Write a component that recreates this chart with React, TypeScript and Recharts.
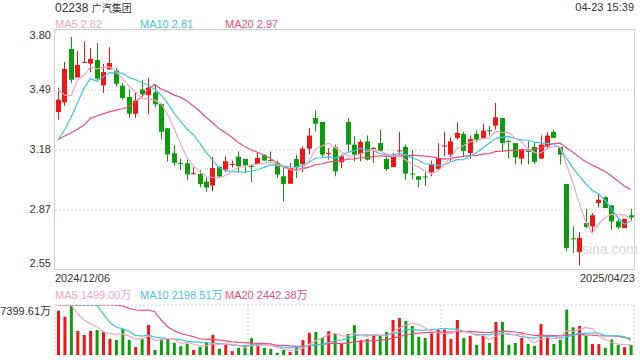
import React from 'react';
import { ComposedChart, Bar, Line, XAxis, YAxis, CartesianGrid } from 'recharts';

// ---------- data ----------
const OPEN = [3.373,3.423,3.701,3.553,3.630,3.625,3.644,3.512,3.595,3.59,
 3.51,3.451,3.364,3.49,3.461,3.475,3.415,3.288,3.158,3.107,
 3.106,3.050,3.05,3.01,2.99,3.087,3.073,3.10,3.14,3.128,
 3.092,3.102,3.147,3.123,3.107,3.038,2.999,3.128,3.102,3.182,
 3.342,3.321,3.158,3.189,3.111,3.321,3.203,3.154,3.22,3.183,
 3.211,3.128,3.086,3.171,3.191,3.052,3.038,3.037,3.06,3.076,
 3.197,3.151,3.238,3.258,3.159,3.258,3.238,3.278,3.302,3.342,
 3.222,3.211,3.13,3.17,3.191,3.13,3.194,3.269,3.191,2.998,
 2.715,2.644,2.795,2.777,2.899,2.929,2.887,2.803,2.769,2.835];
const CLOSE = [3.437,3.597,3.541,3.618,3.634,3.649,3.547,3.581,3.628,3.52,
 3.446,3.364,3.432,3.465,3.50,3.413,3.27,3.152,3.108,3.104,
 3.048,3.054,2.998,2.98,3.081,3.037,3.116,3.102,3.09,3.095,
 3.09,3.133,3.12,3.121,3.047,2.998,3.081,3.085,3.182,3.25,
 3.312,3.151,3.16,3.064,3.142,3.203,3.151,3.217,3.125,3.185,
 3.171,3.076,3.145,3.173,3.052,3.05,3.02,3.035,3.099,3.133,
 3.199,3.22,3.264,3.171,3.232,3.229,3.276,3.276,3.345,3.211,
 3.22,3.137,3.177,3.168,3.113,3.203,3.25,3.238,3.151,2.665,
 2.713,2.717,2.774,2.835,2.916,2.873,2.803,2.772,2.816,2.824];
const HIGH = [3.50,3.633,3.764,3.69,3.741,3.705,3.732,3.623,3.711,3.602,
 3.525,3.49,3.474,3.54,3.552,3.513,3.42,3.29,3.20,3.13,
 3.125,3.085,3.07,3.035,3.14,3.09,3.142,3.12,3.168,3.13,
 3.099,3.16,3.154,3.168,3.12,3.081,3.107,3.151,3.194,3.29,
 3.382,3.321,3.185,3.203,3.151,3.342,3.246,3.229,3.251,3.19,
 3.28,3.151,3.159,3.269,3.203,3.176,3.038,3.06,3.12,3.211,
 3.269,3.241,3.319,3.269,3.251,3.277,3.31,3.30,3.42,3.342,
 3.229,3.211,3.182,3.22,3.217,3.251,3.269,3.281,3.191,2.998,
 2.777,2.748,2.868,2.847,2.946,2.934,2.887,2.812,2.816,2.868];
const LOW = [3.333,3.405,3.524,3.553,3.630,3.58,3.533,3.472,3.593,3.505,
 3.438,3.342,3.342,3.45,3.361,3.398,3.23,3.114,3.093,3.07,
 3.02,3.048,2.98,2.957,2.96,3.03,3.06,3.085,3.06,3.055,
 3.008,3.10,3.118,3.112,3.03,2.908,2.999,3.029,3.06,3.151,
 3.272,3.137,3.125,3.038,3.081,3.168,3.116,3.116,3.12,3.107,
 3.171,3.067,3.086,3.142,3.021,3.021,2.98,2.99,3.038,3.069,
 3.142,3.116,3.229,3.142,3.13,3.217,3.238,3.25,3.281,3.165,
 3.13,3.102,3.10,3.10,3.102,3.13,3.185,3.238,3.10,2.647,
 2.639,2.574,2.769,2.748,2.876,2.873,2.76,2.76,2.769,2.807];
// volume, in 万
const VOLUME = [6562,5673,7399.61,3552,2960,3552,3700,3404,2368,2220,
 3897,2220,1184,2368,4440,740,2368,2440,1800,1300,
 1680,760,1180,1800,3000,937,1500,570,1060,1430,
 2490,1430,1060,910,320,760,470,1110,2200,3280,
 3404,2560,3530,3160,1700,3108,4410,2200,2390,2960,
 2812,3404,5180,5476,5050,4300,2700,2516,3200,3750,
 3750,2368,5180,2516,2840,1500,2840,1800,4884,4884,
 1500,1776,2516,1628,1360,4588,2900,1628,2269,6709,
 4100,4300,2850,1620,1620,1060,2290,1500,1160,1485];

// moving-average values at the start of the window (history before the window)
const MA5_START = [3.487, 3.461, 3.458, 3.54];
const MA10_START = [3.231, 3.279, 3.345, 3.42, 3.496, 3.547, 3.533, 3.557, 3.578];
const MA20_START = [3.231, 3.248, 3.265, 3.283, 3.305, 3.34, 3.352, 3.363, 3.375, 3.383,
 3.39, 3.40, 3.427, 3.453, 3.491, 3.517, 3.491, 3.479, 3.461];
const VMA5_START = [7399.61, 7399.61, 7399.61, 6100];
const VMA10_START = [7399.61, 7399.61, 7399.61, 7399.61, 7399.61, 7399.61, 7399.61, 6100, 4800];
const VMA20_START = [7399.61, 7399.61, 7399.61, 7399.61, 7399.61, 7399.61, 7399.61, 7399.61, 7399.61, 7399.61,
 7250, 6906, 6660, 6611, 6660, 6413, 5180, 4193, 3602];

const PRICE_TICKS = [2.55, 2.8625, 3.175, 3.4875, 3.8];
const PRICE_TICK_LABELS = ['2.55', '2.87', '3.18', '3.49', '3.80'];
const VOL_MAX = 7399.61;
const VOL_TICKS = [0, VOL_MAX];
const VOL_TICK_LABELS = ['0', '7399.61万'];

const TITLE_CODE = '02238';
const TITLE_NAME = '广汽集团';
const TIMESTAMP = '04-23 15:39';
const START_DATE = '2024/12/06';
const END_DATE = '2025/04/23';
const PRICE_LEGEND = ['MA5 2.82', 'MA10 2.81', 'MA20 2.97'];
const VOL_LEGEND = ['MA5 1499.00万', 'MA10 2198.51万', 'MA20 2442.38万'];

// ---------- styling ----------
const RED = '#f01616';
const GREEN = '#0c9c0c';
const C_MA5 = '#f7a2bf';
const C_MA10 = '#3fc3e6';
const C_MA20 = '#ea4f80';
const FONT = 'Arial, "Liberation Sans", "Noto Sans CJK SC", sans-serif';
const TEXT = '#333';

function movingAverage(values: number[], n: number, start: number[]) {
  return values.map((_, i) => {
    if (i < n - 1) return start[i];
    let s = 0;
    for (let k = i - n + 1; k <= i; k++) s += values[k];
    return s / n;
  });
}

const ma5 = movingAverage(CLOSE, 5, MA5_START);
const ma10 = movingAverage(CLOSE, 10, MA10_START);
const ma20 = movingAverage(CLOSE, 20, MA20_START);
const vma5 = movingAverage(VOLUME, 5, VMA5_START);
const vma10 = movingAverage(VOLUME, 10, VMA10_START);
const vma20 = movingAverage(VOLUME, 20, VMA20_START);

const data = CLOSE.map((c, i) => ({
  i,
  o: OPEN[i], c, h: HIGH[i], l: LOW[i],
  up: c >= OPEN[i],
  range: [LOW[i], HIGH[i]],
  ma5: ma5[i], ma10: ma10[i], ma20: ma20[i],
  vol: VOLUME[i],
  vma5: Math.min(vma5[i], VOL_MAX),
  vma10: Math.min(vma10[i], VOL_MAX),
  vma20: Math.min(vma20[i], VOL_MAX),
}));

const Candle = (props: any) => {
  const { x, y, width, height, payload } = props;
  if (!payload) return null;
  const { o, c, h, l, up } = payload;
  const top = Math.min(y, y + height);
  const bh = Math.abs(height);
  const py = (v: number) => top + ((h - v) / (h - l)) * bh;
  const color = up ? RED : GREEN;
  const cx = Math.round(x + width / 2 - 0.5) + 0.5;
  const bt = py(Math.max(o, c));
  const bb = py(Math.min(o, c));
  const bx = Math.round(x);
  return (
    <g>
      <line x1={cx} x2={cx} y1={top} y2={top + bh} stroke={color} strokeWidth={1} />
      <rect x={bx} y={bt} width={Math.round(width)} height={Math.max(1, bb - bt)} fill={color} />
    </g>
  );
};

const VolBar = (props: any) => {
  const { x, y, width, height, payload } = props;
  if (!payload) return null;
  return <rect x={x} y={y} width={width} height={Math.max(0, height)} fill={payload.up ? RED : GREEN} />;
};

const PriceTick = (props: any) => {
  const { y, payload } = props;
  const idx = PRICE_TICKS.indexOf(payload.value);
  const dy = idx === PRICE_TICKS.length - 1 ? 8.8 : idx === 0 ? -3.3 : 2.8;
  return (
    <text x={51} y={y} dy={dy} textAnchor="end" fontSize={11} fontFamily={FONT} fill={TEXT}>
      {PRICE_TICK_LABELS[idx]}
    </text>
  );
};

const VolTick = (props: any) => {
  const { y, payload } = props;
  const idx = VOL_TICKS.indexOf(payload.value);
  const dy = idx === 1 ? 9.8 : -2.2;
  return (
    <text x={51} y={y} dy={dy} textAnchor="end" fontSize={11} fontFamily={FONT} fill={TEXT}>
      {VOL_TICK_LABELS[idx]}
    </text>
  );
};

const legendX = [55, 140, 225];

export default function App() {
  return (
    <div style={{ position: 'absolute', left: 0, top: 0, width: 640, height: 360, background: '#fff', overflow: 'hidden' }}>
      {/* price panel */}
      <div style={{ position: 'absolute', left: 0, top: 0 }}>
        <ComposedChart width={640} height={280} data={data} margin={{ top: 30, right: 6, bottom: 10, left: 0 }}>
          <CartesianGrid vertical={false} stroke="#dcdcdc" strokeDasharray="2 2" />
          <XAxis dataKey="i" type="category" hide />
          <YAxis
            width={55}
            domain={[2.55, 3.8]}
            ticks={PRICE_TICKS}
            axisLine={false}
            tickLine={false}
            tick={<PriceTick />}
            allowDataOverflow
          />
          <Bar dataKey="range" barSize={5} shape={(p: any) => <Candle {...p} />} isAnimationActive={false} />
          <Line dataKey="ma20" type="linear" stroke={C_MA20} strokeWidth={1.2} dot={false} isAnimationActive={false} />
          <Line dataKey="ma10" type="linear" stroke={C_MA10} strokeWidth={1.2} dot={false} isAnimationActive={false} />
          <Line dataKey="ma5" type="linear" stroke={C_MA5} strokeWidth={1.2} dot={false} isAnimationActive={false} />
        </ComposedChart>
      </div>
      <div style={{ position: 'absolute', left: 54, top: 29, width: 581, height: 241, border: '1px solid #cfcfcf', boxSizing: 'border-box', pointerEvents: 'none' }} />

      {/* volume panel */}
      <div style={{ position: 'absolute', left: 0, top: 280 }}>
        <ComposedChart width={640} height={80} data={data} margin={{ top: 25, right: 6, bottom: 5, left: 0 }}>
          <CartesianGrid stroke="#cfcfcf" strokeDasharray="2 2" horizontalPoints={[25, 75]} verticalPoints={[55, 248, 441, 634]} />
          <XAxis dataKey="i" type="category" hide />
          <YAxis
            width={55}
            domain={[0, VOL_MAX]}
            ticks={VOL_TICKS}
            axisLine={false}
            tickLine={false}
            tick={<VolTick />}
            allowDataOverflow
          />
          <Bar dataKey="vol" barSize={3} shape={(p: any) => <VolBar {...p} />} isAnimationActive={false} />
          <Line dataKey="vma20" type="linear" stroke={C_MA20} strokeWidth={1.2} dot={false} isAnimationActive={false} />
          <Line dataKey="vma10" type="linear" stroke={C_MA10} strokeWidth={1.2} dot={false} isAnimationActive={false} />
          <Line dataKey="vma5" type="linear" stroke={C_MA5} strokeWidth={1.2} dot={false} isAnimationActive={false} />
        </ComposedChart>
      </div>

      {/* texts */}
      <svg width={640} height={360} style={{ position: 'absolute', left: 0, top: 0, pointerEvents: 'none' }}>
        <text x={55} y={7.5} dominantBaseline="central" fontFamily={FONT} fill={TEXT} fontSize={12}>
          {TITLE_CODE + ' '}<tspan fontSize={10}>{TITLE_NAME}</tspan>
        </text>
        <text x={634} y={7} dominantBaseline="central" textAnchor="end" fontFamily={FONT} fill={TEXT} fontSize={11}>{TIMESTAMP}</text>
        {PRICE_LEGEND.map((t, k) => (
          <text key={t} x={legendX[k]} y={24} dominantBaseline="central" fontFamily={FONT} fontSize={11}
            fill={[C_MA5, C_MA10, C_MA20][k]}>{t}</text>
        ))}
        <text x={55} y={277.5} dominantBaseline="central" fontFamily={FONT} fill={TEXT} fontSize={11}>{START_DATE}</text>
        <text x={635} y={277.5} dominantBaseline="central" textAnchor="end" fontFamily={FONT} fill={TEXT} fontSize={11}>{END_DATE}</text>
        {VOL_LEGEND.map((t, k) => (
          <text key={t} x={legendX[k]} y={295} dominantBaseline="central" fontFamily={FONT} fontSize={11}
            fill={[C_MA5, C_MA10, C_MA20][k]}>{t}</text>
        ))}
        <text x={582} y={249} dominantBaseline="central" fontFamily={FONT} fill="#d6d6d6" fontSize={14}>sina.com</text>
      </svg>
    </div>
  );
}
